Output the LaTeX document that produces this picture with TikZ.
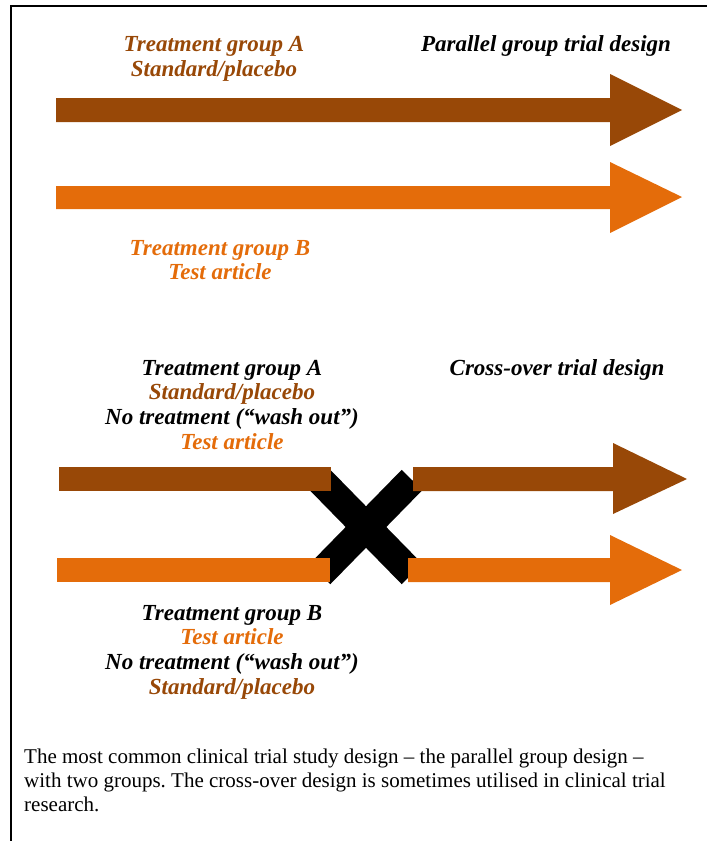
\documentclass[tikz,border=0pt]{standalone}
\usepackage{fontspec}
\setmainfont{Liberation Serif}
\definecolor{darkbrown}{HTML}{984807}
\definecolor{darkorange}{HTML}{E46C0A}
\frenchspacing

\begin{document}
\begin{tikzpicture}[x=1pt,y=-1pt,
        lab/.style={anchor=base,inner sep=0pt,font=\fontsize{23}{27}\selectfont\bfseries\itshape},
        captxt/.style={anchor=base west,inner sep=0pt,font=\fontsize{21}{24}\selectfont}]
        \useasboundingbox (0,0) rectangle (707,841);
        \draw[line width=2pt] (11,841) -- (11,6) -- (707,6);
        % parallel group arrows
        \fill[darkbrown] (56,98) -- (610,98) -- (610,74) -- (682,110) -- (610,146) -- (610,122) -- (56,122) -- cycle;
        \fill[darkorange] (56,186) -- (610,186) -- (610,162) -- (682,197) -- (610,233) -- (610,209) -- (56,209) -- cycle;
        \node[lab, darkbrown] (parA) at (214,51) {Treatment group A};
        \node[lab, darkbrown] (parAstd) at (214,76) {Standard/placebo};
        \node[lab] (partitle) at (546,51) {Parallel group trial design};
        \node[lab, darkorange] (parB) at (220,255) {Treatment group B};
        \node[lab, darkorange] (parBtest) at (220,279) {Test article};
        % cross-over arrows
        \draw[line width=29pt] (320,480) -- (412,574);
        \draw[line width=29pt] (412,480) -- (320,574);
        \fill[darkbrown] (59,467) rectangle (331,491);
        \fill[darkbrown] (413,467) -- (613,467) -- (613,443) -- (687,479) -- (613,514) -- (613,491) -- (413,491) -- cycle;
        \fill[darkorange] (57,558) rectangle (330,582);
        \fill[darkorange] (408,558) -- (610,558) -- (610,535) -- (682,570) -- (610,605) -- (610,582) -- (408,582) -- cycle;
        \node[lab] (crsA) at (232,375) {Treatment group A};
        \node[lab, darkbrown] (crsAstd) at (232,399) {Standard/placebo};
        \node[lab] (crsAwash) at (232,424) {No treatment (“wash out”)};
        \node[lab, darkorange] (crsAtest) at (232,449) {Test article};
        \node[lab] (crstitle) at (557,375) {Cross-over trial design};
        \node[lab] (crsB) at (232,620) {Treatment group B};
        \node[lab, darkorange] (crsBtest) at (232,644) {Test article};
        \node[lab] (crsBwash) at (232,669) {No treatment (“wash out”)};
        \node[lab, darkbrown] (crsBstd) at (232,694) {Standard/placebo};
        % caption
        \node[captxt] (cap1) at (24,763) {The most common clinical trial study design – the parallel group design –};
        \node[captxt] (cap2) at (24,787) {with two groups. The cross-over design is sometimes utilised in clinical trial};
        \node[captxt] (cap3) at (24,811) {research.};
    \end{tikzpicture}
\end{document}
